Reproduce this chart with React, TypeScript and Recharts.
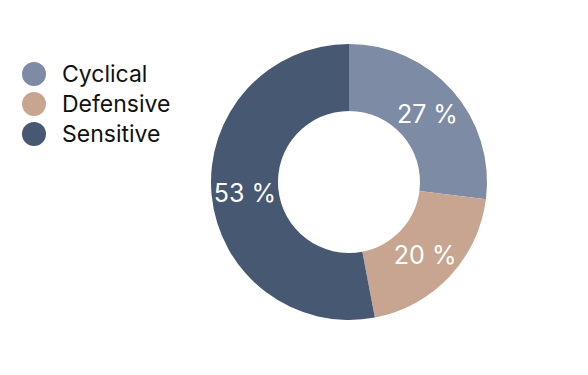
import { PieChart, Pie, Cell } from "recharts";

const categories = ["Cyclical", "Defensive", "Sensitive"];
const shares = [27, 20, 53];
const colors = ["#7d8ba5", "#c8a590", "#475873"];

const data = categories.map((name, i) => ({ name, value: shares[i] }));

const RADIAN = Math.PI / 180;

const renderLabel = (props: any) => {
  const { cx, cy, midAngle, innerRadius, outerRadius, value } = props;
  const r = (innerRadius + outerRadius) / 2;
  const x = cx + r * Math.cos(-midAngle * RADIAN);
  const y = cy + r * Math.sin(-midAngle * RADIAN);
  return (
    <text
      x={x}
      y={y + 1}
      fill="#ffffff"
      fontSize={25}
      fontFamily="Inter"
      textAnchor="middle"
      dominantBaseline="central"
    >
      {value + " %"}
    </text>
  );
};

export default function App() {
  return (
    <div style={{ position: "absolute", left: 0, top: 0, width: 588, height: 375 }}>
      <PieChart width={588} height={375} margin={{ top: 0, right: 0, bottom: 0, left: 0 }}>
        <Pie
          data={data}
          dataKey="value"
          nameKey="name"
          cx={349}
          cy={182}
          innerRadius={71}
          outerRadius={138}
          startAngle={90}
          endAngle={-270}
          stroke="none"
          label={renderLabel}
          labelLine={false}
          isAnimationActive={false}
        >
          {data.map((d, i) => (
            <Cell key={d.name} fill={colors[i]} />
          ))}
        </Pie>
      </PieChart>
      <div
        style={{
          position: "absolute",
          left: 22,
          top: 59,
          fontFamily: "Inter",
          fontSize: 23,
          color: "#111",
        }}
      >
        {categories.map((name, i) => (
          <div key={name} style={{ display: "flex", alignItems: "center", height: 30 }}>
            <span
              style={{
                width: 24,
                height: 24,
                borderRadius: 12,
                background: colors[i],
                marginRight: 16,
                display: "inline-block",
              }}
            />
            <span>{name}</span>
          </div>
        ))}
      </div>
    </div>
  );
}
